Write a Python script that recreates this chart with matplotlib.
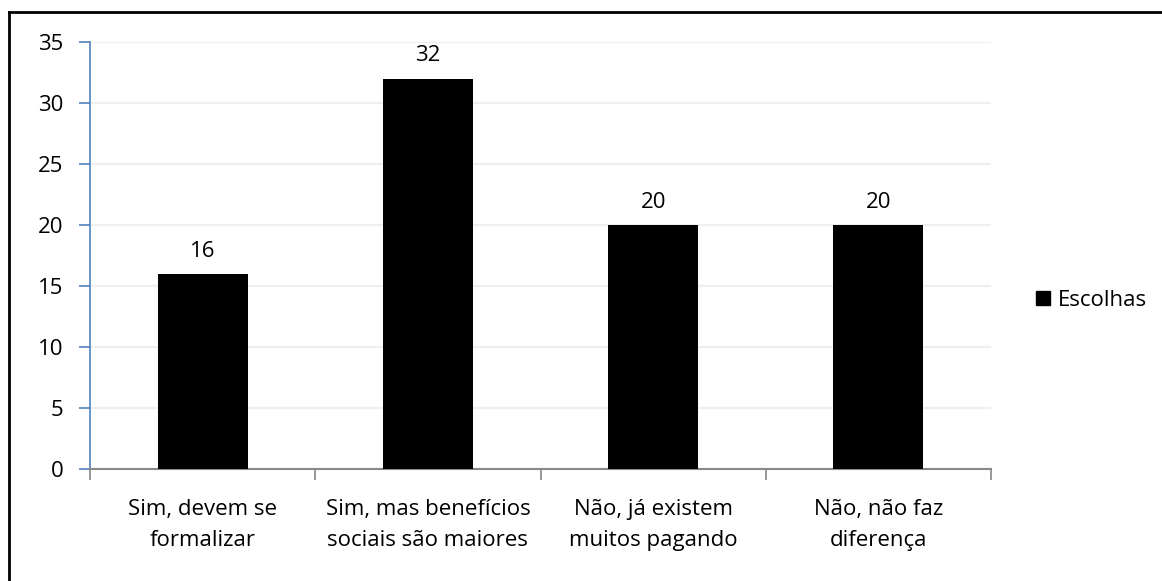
import matplotlib
matplotlib.use("Agg")
import matplotlib.pyplot as plt
from matplotlib.lines import Line2D

categories = ["Sim, devem se\nformalizar", "Sim, mas benefícios\nsociais são maiores",
              "Não, já existem\nmuitos pagando", "Não, não faz\ndiferença"]
values = [16, 32, 20, 20]
series_name = "Escolhas"
yticks = [0, 5, 10, 15, 20, 25, 30, 35]

plt.rcParams["font.family"] = ["Open Sans", "DejaVu Sans"]
FS = 16

W, H = 1162, 581
fig = plt.figure(figsize=(W / 100, H / 100), dpi=100)
ax = fig.add_axes([90 / W, 1 - 469 / H, (991 - 90) / W, (469 - 42) / H])

x = list(range(len(categories)))
ax.bar(x, values, width=0.4, color="black", zorder=3, label=series_name)
for xi, v in zip(x, values):
    ax.text(xi, v + 1.0, str(v), ha="center", va="bottom", fontsize=FS)

ax.set_xlim(-0.5, len(categories) - 0.5)
ax.set_ylim(0, 35)
ax.set_yticks(yticks)
ax.set_yticklabels([str(t) for t in yticks], fontsize=FS)
ax.yaxis.grid(True, color="#efefef", linewidth=1.6)
ax.set_axisbelow(True)

# Category labels between boundary ticks
ax.set_xticks([i - 0.5 for i in range(len(categories) + 1)])
ax.set_xticklabels([])
ax.tick_params(axis="x", length=8, color="#888888", width=1.2, direction="out")
ax.tick_params(axis="y", length=8, color="#4f81bd", width=1.2, direction="out", pad=11)
for xi, c in zip(x, categories):
    ax.text(xi, -2.5, c, ha="center", va="top", fontsize=FS, linespacing=1.6)

for s in ["top", "right"]:
    ax.spines[s].set_visible(False)
ax.spines["left"].set_color("#4f81bd")
ax.spines["left"].set_linewidth(1.2)
ax.spines["bottom"].set_color("#888888")
ax.spines["bottom"].set_linewidth(1.5)

handle = Line2D([], [], marker="s", linestyle="none", color="black", markersize=9.5)
fig.legend([handle], [series_name], loc="center left",
           bbox_to_anchor=(1032 / W, 1 - 300 / H), frameon=False, fontsize=FS,
           handletextpad=0.15, handlelength=1.0, borderaxespad=0, borderpad=0)

# Outer frame
fig.add_artist(Line2D([9 / W, 9 / W], [0, 1 - 12 / H], transform=fig.transFigure,
                      color="black", linewidth=2))
fig.add_artist(Line2D([9 / W, 1], [1 - 12 / H, 1 - 12 / H], transform=fig.transFigure,
                      color="black", linewidth=2))

fig.savefig("out.png", dpi=100)
